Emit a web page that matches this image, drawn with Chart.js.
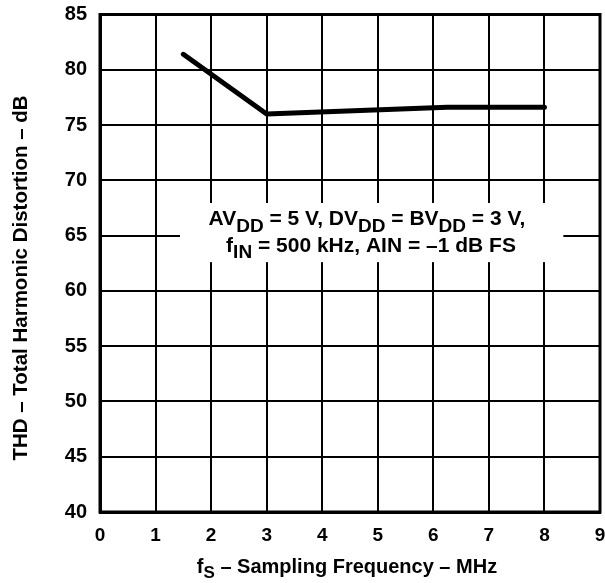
<!DOCTYPE html>
<html>
<head>
<meta charset="utf-8">
<script src="https://cdn.jsdelivr.net/npm/chart.js@4.4.0/dist/chart.umd.min.js"></script>
<style>
  body { margin: 0; background: #fff; }
  #wrap { width: 605px; height: 583px; position: relative; }
</style>
</head>
<body>
<div id="wrap"><canvas id="thd"></canvas></div>
<script>
// sampling frequency (MHz) vs THD (dB)
var freqMHz = [1.5, 3, 6.25, 8];
var thdDb = [81.4, 76.0, 76.6, 76.6];

var xTicks = [0, 1, 2, 3, 4, 5, 6, 7, 8, 9];
var yTicks = [40, 45, 50, 55, 60, 65, 70, 75, 80, 85];

var FONT = "'Liberation Sans', Arial, sans-serif";

// draw a line of text with subscript parts, centred on cx
function drawRuns(ctx, runs, cx, y, size, subSize, subDrop) {
    var total = 0;
    runs.forEach(function(r) {
        ctx.font = 'bold ' + (r.sub ? subSize : size) + 'px ' + FONT;
        r.w = ctx.measureText(r.t).width;
        total += r.w;
    });
    var x = cx - total / 2;
    ctx.textAlign = 'left';
    ctx.textBaseline = 'alphabetic';
    runs.forEach(function(r) {
        ctx.font = 'bold ' + (r.sub ? subSize : size) + 'px ' + FONT;
        ctx.fillText(r.t, x, r.sub ? y + subDrop : y);
        x += r.w;
    });
}

var extras = {
    id: 'extras',
    beforeDatasetsDraw: function(chart) {
        var ctx = chart.ctx;
        var xs = chart.scales.x, ys = chart.scales.y;
        ctx.save();
        // white label box over the grid
        var l = xs.getPixelForValue(1.44), r = xs.getPixelForValue(8.34);
        var t = ys.getPixelForValue(67.95), b = ys.getPixelForValue(62.6);
        ctx.fillStyle = '#fff';
        ctx.fillRect(l, t, r - l, b - t);
        ctx.fillStyle = '#000';
        drawRuns(ctx, [
            {t: 'AV'}, {t: 'DD', sub: true}, {t: ' = 5 V, DV'}, {t: 'DD', sub: true},
            {t: ' = BV'}, {t: 'DD', sub: true}, {t: ' = 3 V,'}
        ], 367, 225, 21, 19, 7);
        drawRuns(ctx, [
            {t: 'f'}, {t: 'IN', sub: true}, {t: ' = 500 kHz, AIN = \u20131 dB FS'}
        ], 371, 252, 21, 19, 6);
        ctx.restore();
    },
    afterDraw: function(chart) {
        var ctx = chart.ctx, a = chart.chartArea;
        ctx.save();
        ctx.strokeStyle = '#000';
        ctx.lineWidth = 3;
        ctx.strokeRect(a.left, a.top, a.right - a.left, a.bottom - a.top);
        ctx.fillStyle = '#000';
        // x title with subscript
        drawRuns(ctx, [
            {t: 'f'}, {t: 'S', sub: true}, {t: ' \u2013 Sampling Frequency \u2013 MHz'}
        ], 347, 573, 20, 17, 5);
        // y title
        ctx.translate(27, 278);
        ctx.rotate(-Math.PI / 2);
        ctx.font = 'bold 20.5px ' + FONT;
        ctx.textAlign = 'center';
        ctx.textBaseline = 'alphabetic';
        ctx.fillText('THD \u2013 Total Harmonic Distortion \u2013 dB', 0, 0);
        ctx.restore();
    }
};

var chart = new Chart(document.getElementById('thd'), {
    type: 'line',
    data: {
        datasets: [{
            data: freqMHz.map(function(f, i) { return {x: f, y: thdDb[i]}; }),
            borderColor: '#000',
            borderWidth: 5,
            borderCapStyle: 'round',
            borderJoinStyle: 'round',
            pointRadius: 0,
            tension: 0
        }]
    },
    options: {
        responsive: true,
        maintainAspectRatio: false,
        animation: false,
        layout: { padding: { top: 14.5, right: 5, left: 0, bottom: 0 } },
        plugins: { legend: { display: false }, tooltip: { enabled: false } },
        scales: {
            x: {
                type: 'linear',
                min: 0, max: 9,
                afterFit: function(s) { s.height = 71; s.paddingLeft = 0; s.paddingRight = 0; },
                afterBuildTicks: function(s) { s.ticks = xTicks.map(function(v) { return {value: v}; }); },
                grid: { color: '#000', lineWidth: 2, drawTicks: false },
                border: { display: true, color: '#000', width: 3 },
                ticks: { color: '#000', padding: 12, font: { family: FONT, size: 19, weight: 'bold' } }
            },
            y: {
                min: 40, max: 85,
                afterFit: function(s) { s.width = 100; s.paddingTop = 0; s.paddingBottom = 0; },
                afterBuildTicks: function(s) { s.ticks = yTicks.map(function(v) { return {value: v}; }); },
                grid: { color: '#000', lineWidth: 2, drawTicks: false },
                border: { display: true, color: '#000', width: 3 },
                ticks: { color: '#000', padding: 13, font: { family: FONT, size: 20, weight: 'bold' } }
            }
        }
    },
    plugins: [extras]
});
</script>
</body>
</html>
